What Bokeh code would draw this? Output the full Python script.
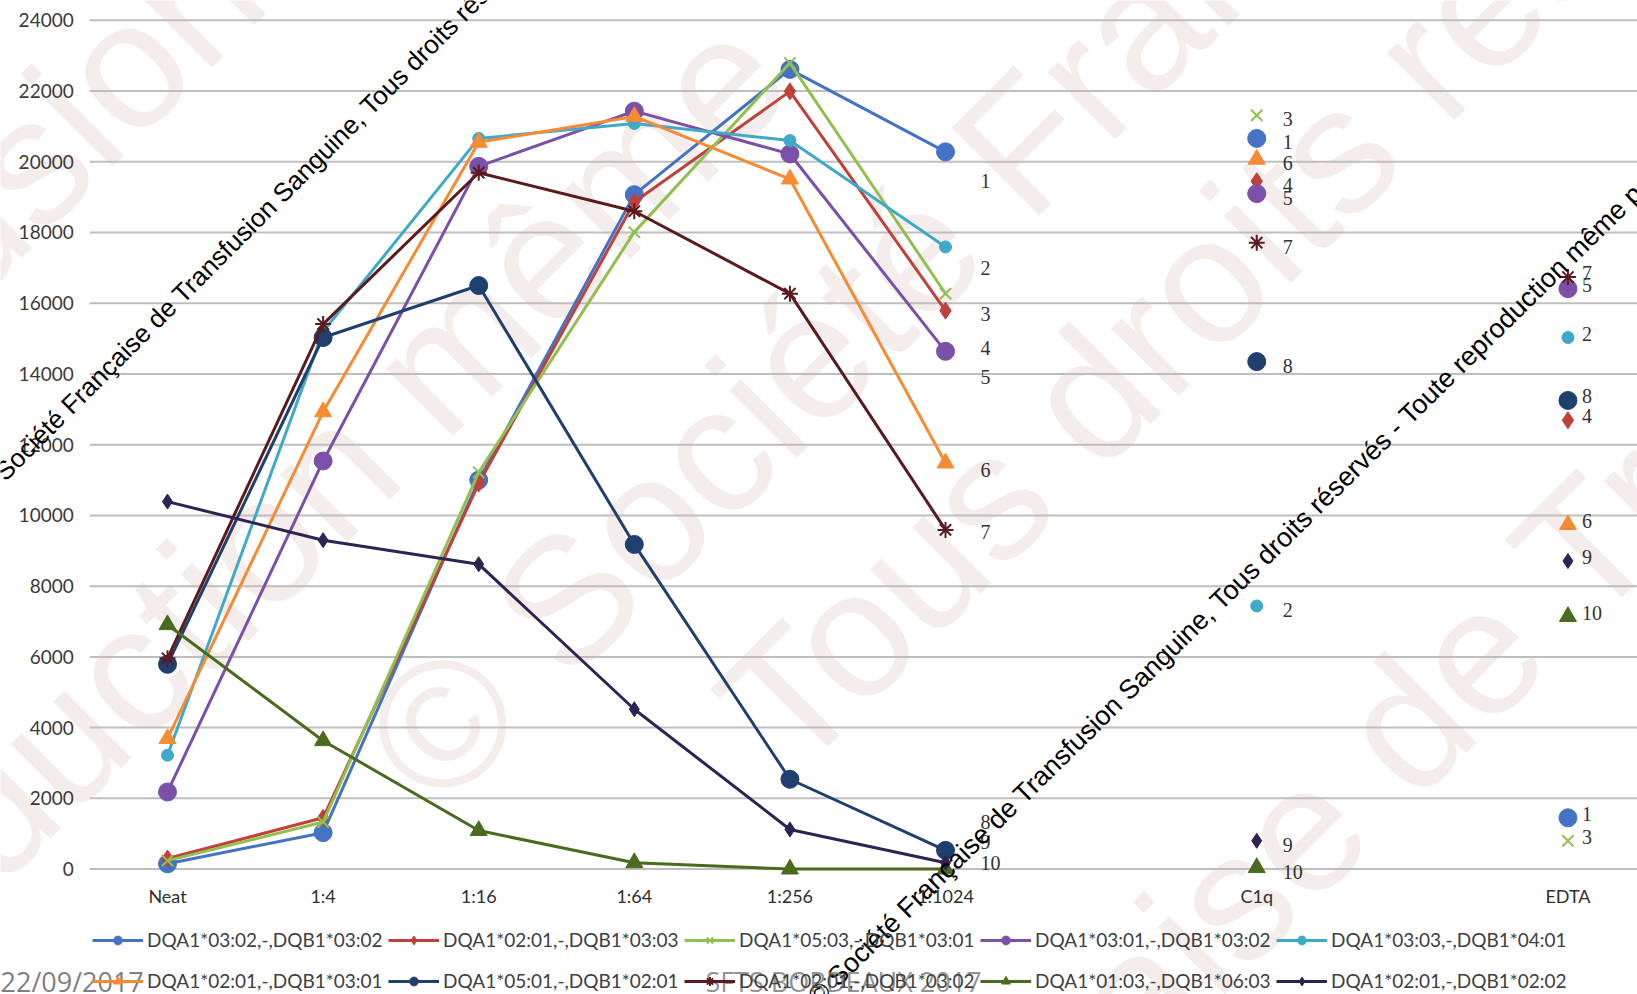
from bokeh.plotting import figure
from bokeh.models import Legend, LegendItem, Label, Range1d, ColumnDataSource
from bokeh.embed import file_html
from bokeh.resources import INLINE
from bokeh.core.properties import value

# ---------------- data ----------------
DILUTIONS = ["Neat", "1:4", "1:16", "1:64", "1:256", "1:1024"]
CONTROLS = ["C1q", "EDTA"]

SERIES = [
    "DQA1*03:02,-,DQB1*03:02",
    "DQA1*02:01,-,DQB1*03:03",
    "DQA1*05:03,-,DQB1*03:01",
    "DQA1*03:01,-,DQB1*03:02",
    "DQA1*03:03,-,DQB1*04:01",
    "DQA1*02:01,-,DQB1*03:01",
    "DQA1*05:01,-,DQB1*02:01",
    "DQA1*02:01,-,DQB1*03:02",
    "DQA1*01:03,-,DQB1*06:03",
    "DQA1*02:01,-,DQB1*02:02",
]
SERIES_NUM = ["1", "4", "3", "5", "2", "6", "8", "7", "10", "9"]

S1 = [150, 1030, 11000, 19070, 22610, 20280]
S2 = [300, 1450, 10900, 18860, 21990, 15790]
S3 = [240, 1330, 11220, 18010, 22790, 16270]
S4 = [2180, 11540, 19870, 21430, 20220, 14640]
S5 = [3220, 15200, 20660, 21080, 20600, 17590]
S6 = [3690, 12930, 20550, 21280, 19510, 11480]
S7 = [5790, 15030, 16500, 9180, 2540, 530]
S8 = [5960, 15410, 19690, 18600, 16270, 9590]
S9 = [6910, 3630, 1090, 180, 0, 0]
S10 = [10390, 9300, 8620, 4520, 1120, 180]
VALUES = [S1, S2, S3, S4, S5, S6, S7, S8, S9, S10]

C1Q = [20660, 19450, 21310, 19100, 7440, 20070, 14350, 17710, 40, 800]
EDTA = [1450, 12690, 800, 16410, 15030, 9740, 13250, 16740, 7140, 8710]

# number labels placed to the right of the 1:1024 column (labels "1".."10")
END_LABELS = ["1", "2", "3", "4", "5", "6", "7", "8", "9", "10"]
END_LABEL_VALUES = [19450, 17000, 15700, 14730, 13900, 11280, 9540, 1330, 770, 180]

Y_TICKS = list(range(0, 24001, 2000))
Y_TICK_LABELS = [str(t) for t in Y_TICKS]

# ---------------- style / layout ----------------
COLORS = ["#4472C4", "#C0403A", "#92C050", "#7A50A8", "#3FA9C9",
          "#F68B33", "#1F3F6E", "#5A1A1E", "#4A6B1E", "#2E2352"]
MARKERS = ["circle", "diamond", "x", "circle", "circle",
           "triangle", "circle", "asterisk", "triangle", "diamond"]
SIZES = [18, 17, 16, 18, 12, 17, 18, 16, 17, 15]

DIL_SLOTS = list(range(len(DILUTIONS)))
CTRL_SLOTS = [7, 9]
X_LEFT, X_RIGHT = -1.0733, 9.447
PLOT_LEFT = -0.5

W, H = 1637, 994
p = figure(width=W, height=H,
           x_range=Range1d(X_LEFT, X_RIGHT), y_range=Range1d(-3546, 24559),
           output_backend="svg", toolbar_location=None,
           x_axis_type=None, y_axis_type=None,
           min_border_left=0, min_border_right=0, min_border_top=0, min_border_bottom=0)
p.outline_line_color = None
p.background_fill_color = "white"
p.border_fill_color = "white"
p.grid.visible = False

def sx(X):  # picture px -> frame screen x
    return X
def sy(Y):  # picture px -> frame screen y (from bottom)
    return H - Y

# big pale watermark
def wm(text, X, Y, size="180px", color="#f5ecec", font="Liberation Sans",
       level="underlay", angle=45):
    p.add_layout(Label(x=sx(X), y=sy(Y), x_units="screen", y_units="screen",
                       text=text, angle=angle, angle_units="deg",
                       text_font=font, text_font_size=size, text_color=color,
                       text_align="left", text_baseline="alphabetic", level=level))

wm("Transfusion", -431, 621)
wm("reproduction même", -343, 1143)
wm("© Société Française", 395, 770)
wm("Tous droits réservés", 750, 735)
wm("aise de Transfusion", 1101, 1029)

# horizontal grid lines and y tick labels
p.segment(x0=PLOT_LEFT, x1=X_RIGHT, y0=Y_TICKS, y1=Y_TICKS,
          line_color="#BEBEBE", line_width=2)
p.text(x=[PLOT_LEFT] * len(Y_TICKS), y=Y_TICKS, text=Y_TICK_LABELS,
       x_offset=-16, text_align="right", text_baseline="middle",
       text_font=value("Lato"), text_font_size="19px", text_color="#3a3a3a")

# category labels
p.text(x=DIL_SLOTS + CTRL_SLOTS, y=[0] * (len(DIL_SLOTS) + len(CTRL_SLOTS)),
       text=DILUTIONS + CONTROLS, y_offset=27, text_align="center",
       text_baseline="middle", text_font=value("Lato"), text_font_size="18px",
       text_color="#2f2f2f")

line_r, scat_r = [], []
for i, name in enumerate(SERIES):
    lr = p.line(DIL_SLOTS, VALUES[i], line_color=COLORS[i], line_width=3)
    kw = dict(marker=MARKERS[i], size=SIZES[i], line_color=COLORS[i], fill_color=COLORS[i])
    if MARKERS[i] in ("x", "asterisk"):
        kw["line_width"] = 2
    sr = p.scatter(DIL_SLOTS, VALUES[i], **kw)
    p.scatter([CTRL_SLOTS[0]], [C1Q[i]], **kw)
    p.scatter([CTRL_SLOTS[1]], [EDTA[i]], **kw)
    line_r.append(lr)
    scat_r.append(sr)

NUM_FONT = value("Liberation Serif")
num_style = dict(text_font=NUM_FONT, text_font_size="20px", text_color="#333333",
                 text_baseline="middle", text_align="left")
src_c1q = ColumnDataSource(dict(x=[CTRL_SLOTS[0]] * len(SERIES), y=C1Q, t=SERIES_NUM))
p.text(x="x", y="y", text="t", source=src_c1q, x_offset=26, y_offset=4, **num_style)
src_edta = ColumnDataSource(dict(x=[CTRL_SLOTS[1]] * len(SERIES), y=EDTA, t=SERIES_NUM))
p.text(x="x", y="y", text="t", source=src_edta, x_offset=14, y_offset=-4, **num_style)
src_end = ColumnDataSource(dict(x=[DIL_SLOTS[-1]] * len(END_LABELS), y=END_LABEL_VALUES, t=END_LABELS))
p.text(x="x", y="y", text="t", source=src_end, x_offset=35, y_offset=0, **num_style)

def make_legend(idx, vy):
    items = [LegendItem(label=SERIES[i], renderers=[line_r[i], scat_r[i]]) for i in idx]
    return Legend(items=items, orientation="horizontal", location=(sx(92), vy),
                  label_text_font="Lato", label_text_font_size="19px",
                  label_text_color="#404040", glyph_width=51, glyph_height=22,
                  label_standoff=4, label_width=240, spacing=1,
                  padding=0, margin=0, border_line_color=None,
                  background_fill_alpha=0)

p.add_layout(make_legend(range(0, 5), sy(940) - 11))
p.add_layout(make_legend(range(5, 10), sy(981) - 11))

# black diagonal copyright notices
NOTICE = ("© Société Française de Transfusion Sanguine, Tous droits réservés - "
          "Toute reproduction même partielle interdite")
wm(NOTICE, -20, 494, size="26px", color="#000000", level="annotation")
wm(NOTICE, 812, 1000, size="27px", color="#000000", level="annotation", angle=44.5)

# footer texts
p.add_layout(Label(x=0, y=sy(981), x_units="screen", y_units="screen",
                   text="22/09/2017", text_font="Open Sans", text_font_size="27px",
                   text_color="#7F7F7F", text_baseline="middle", text_align="left"))
p.add_layout(Label(x=sx(843), y=sy(981), x_units="screen", y_units="screen",
                   text="SFTS BORDEAUX 2017", text_font="Open Sans", text_font_size="27px",
                   text_color="#7F7F7F", text_alpha=0.85, text_baseline="middle",
                   text_align="center"))

open("out.html", "w").write(file_html(p, INLINE))
